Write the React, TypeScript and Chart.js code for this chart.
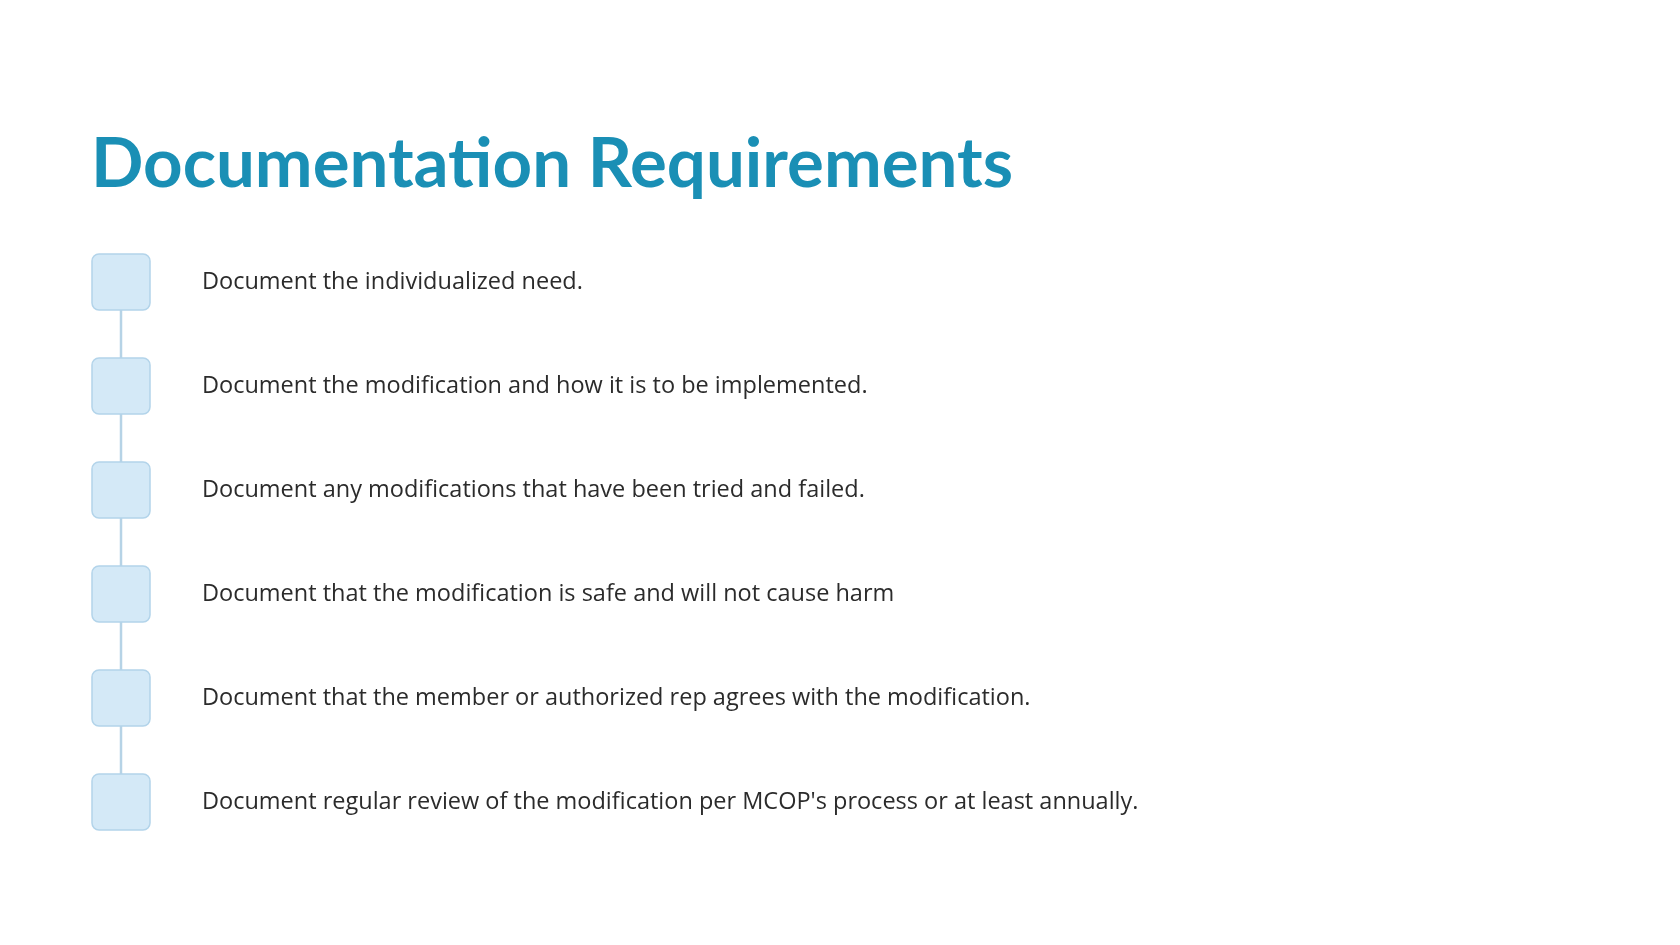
import { useEffect, useRef } from "react"
import { Chart, registerables, type Plugin } from "chart.js"

Chart.register(...registerables)

const title = "Documentation Requirements"
const steps = [
  "Document the individualized need.",
  "Document the modification and how it is to be implemented.",
  "Document any modifications that have been tried and failed.",
  "Document that the modification is safe and will not cause harm",
  "Document that the member or authorized rep agrees with the modification.",
  "Document regular review of the modification per MCOP's process or at least annually.",
]
const stepY = [282, 386, 490, 594, 698, 802]

const BOX_X = 121
const TEXT_X = 202

const stepsPlugin: Plugin<"scatter"> = {
  id: "steps",
  afterDatasetsDraw(chart) {
    const { ctx, scales } = chart
    const x = scales.x
    const y = scales.y
    ctx.save()
    // title
    ctx.fillStyle = "#1a8fb5"
    ctx.font = "bold 69px Lato, 'Open Sans', sans-serif"
    ctx.textBaseline = "alphabetic"
    ctx.fillText(title, x.getPixelForValue(91), y.getPixelForValue(187))
    steps.forEach((label, i) => {
      const cx = x.getPixelForValue(BOX_X)
      const cy = y.getPixelForValue(stepY[i])
      ctx.beginPath()
      ctx.roundRect(cx - 29, cy - 28, 58, 56, 7)
      ctx.fillStyle = "#d4e9f7"
      ctx.fill()
      ctx.strokeStyle = "#b3d4ea"
      ctx.lineWidth = 1.5
      ctx.stroke()
      ctx.fillStyle = "#2b2b2b"
      ctx.font = "23.5px 'Open Sans', sans-serif"
      ctx.textBaseline = "middle"
      ctx.fillText(label, x.getPixelForValue(TEXT_X), cy)
    })
    ctx.restore()
  },
}

export default function App() {
  const ref = useRef<HTMLCanvasElement>(null)

  useEffect(() => {
    if (!ref.current) return
    const chart = new Chart(ref.current, {
      type: "scatter",
      data: {
        datasets: [
          {
            data: stepY.map((v) => ({ x: BOX_X, y: v })),
            showLine: true,
            borderColor: "#b6d3e6",
            borderWidth: 2.5,
            pointRadius: 0,
          },
        ],
      },
      options: {
        animation: false,
        responsive: false,
        layout: { padding: 0 },
        scales: {
          x: { type: "linear", min: 0, max: 1680, display: false },
          y: { type: "linear", min: 0, max: 945, reverse: true, display: false },
        },
        plugins: { legend: { display: false }, tooltip: { enabled: false } },
      },
      plugins: [stepsPlugin],
    })
    return () => chart.destroy()
  }, [])

  return (
    <div style={{ position: "fixed", inset: 0, background: "#fff" }}>
      <canvas ref={ref} width={1680} height={945} style={{ width: 1680, height: 945 }} />
    </div>
  )
}
